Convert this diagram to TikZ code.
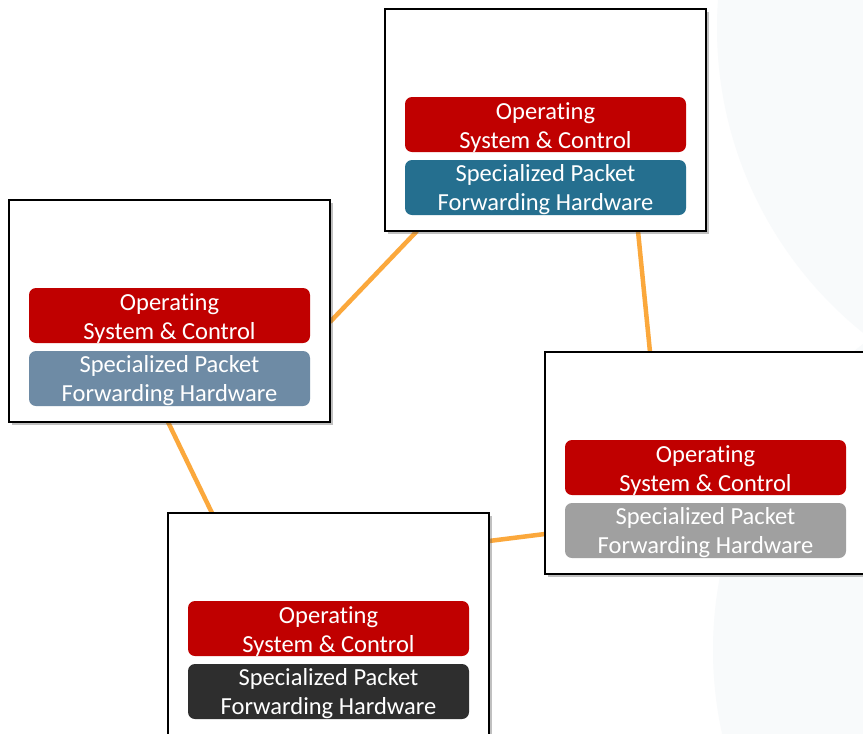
\documentclass[tikz,border=0pt]{standalone}
\usepackage{fontspec}
\setmainfont{Carlito}[Ligatures={NoCommon}]
\usetikzlibrary{calc,shadows}

\definecolor{osred}{HTML}{C00000}
\definecolor{hwblue}{HTML}{256F8F}
\definecolor{hwslate}{HTML}{6E8BA5}
\definecolor{hwgray}{HTML}{A0A0A0}
\definecolor{hwdark}{HTML}{2E2E2E}
\definecolor{linkorange}{HTML}{FBA83C}
\definecolor{haze}{HTML}{F8FAFB}

\pgfdeclarelayer{backdrop}
\pgfdeclarelayer{links}
\pgfsetlayers{backdrop,links,main}

\tikzset{
  swbox/.style={draw=black, line width=2.2pt, fill=white, inner sep=0pt, outer sep=0pt,
    minimum width=321pt, minimum height=222pt, anchor=north west,
    drop shadow={shadow xshift=2.5pt, shadow yshift=-2.5pt, opacity=0.35, fill=black!70}},
  barbase/.style={rounded corners=7pt, inner sep=0pt, outer sep=0pt,
    minimum width=281pt, minimum height=55pt, anchor=north west},
  osbar/.style={barbase, fill=osred},
  hwbar/.style={barbase},
  % anchor=base sits on the last line of the two-line label
  bartext/.style={text=white, inner sep=0pt, align=center, anchor=base,
    font=\fontsize{24.5}{29}\selectfont},
  link/.style={draw=linkorange, line width=4.5pt}
}

% one switch: outer box, OS bar and forwarding-hardware bar
\newcommand\switchbox[4]{%
  \node[swbox] (#1) at (#2,#3) {};
  \node[osbar] (#1-os) at ($(#1.north west)+(20,88)$) {};
  \node[hwbar, fill=#4] (#1-hw) at ($(#1.north west)+(20,151)$) {};
  \node[bartext] (#1-ost) at ($(#1-os.north)+(0,51)$) {Operating\\System \& Control};
  \node[bartext] (#1-hwt) at ($(#1-hw.north)+(0,50)$) {Specialized Packet\\Forwarding Hardware};
}

\begin{document}
\begin{tikzpicture}[x=1pt,y=-1pt]
  \clip (0,0) rectangle (863,734);

  \begin{pgfonlayer}{backdrop}
    \fill[white] (0,0) rectangle (863,734);
    \fill[haze] (1108,28) circle (391);
    \fill[haze] (1100,650) circle (387);
  \end{pgfonlayer}

  \switchbox{top}{385}{9}{hwblue}
  \switchbox{left}{9}{200}{hwslate}
  \switchbox{right}{545}{352}{hwgray}
  \switchbox{bottom}{168}{513}{hwdark}

  \begin{pgfonlayer}{links}
    \draw[link] ($(top.south west)+(32,0)$) -- ($(left.north east)+(0,122)$);
    \draw[link] ($(top.south west)+(253,0)$) -- ($(right.north west)+(105,0)$);
    \draw[link] ($(left.south west)+(159,0)$) -- ($(bottom.north west)+(44,0)$);
    \draw[link] ($(bottom.north east)+(0,28)$) -- ($(right.south west)+(0,-40)$);
  \end{pgfonlayer}
\end{tikzpicture}
\end{document}
